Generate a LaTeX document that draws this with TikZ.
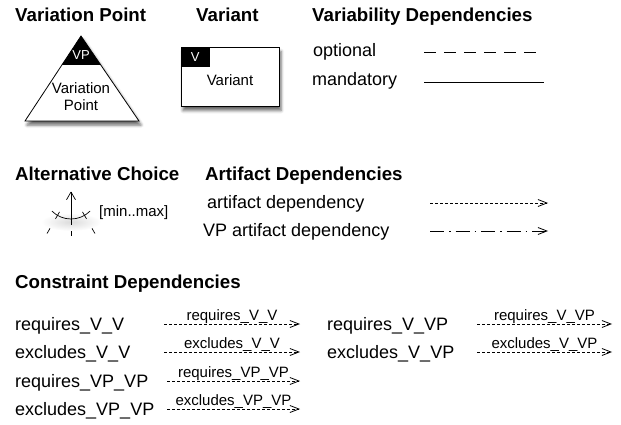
\documentclass[tikz,border=0pt]{standalone}
\usepackage{fontspec}
\setmainfont{Liberation Sans}
\usetikzlibrary{arrows.meta,shadows.blur}

\begin{document}
\begin{tikzpicture}[x=1pt,y=-1pt]
\tikzstyle{head}=[anchor=base west, inner sep=0, font=\fontsize{18.7}{20}\selectfont\bfseries]
\tikzstyle{txt}=[anchor=base west, inner sep=0, font=\fontsize{18}{20}\selectfont]
\tikzstyle{small}=[inner sep=0, font=\fontsize{15}{17}\selectfont]
\tikzstyle{lbl}=[anchor=base, inner sep=0, yshift=4pt, font=\fontsize{15}{17}\selectfont]
\tikzstyle{dep}=[line width=0.8pt, dash pattern=on 3pt off 2pt, -{Straight Barb[length=9pt,width=7pt]}]
\tikzstyle{shad}=[blur shadow={shadow xshift=2pt, shadow yshift=-4pt, shadow blur radius=3pt, shadow opacity=60}]

\useasboundingbox (0,0) rectangle (621,425);

\node[head] (hvp) at (15,22) {Variation Point};
\node[head] (hv) at (196,22) {Variant};
\node[head] (hvd) at (312,22) {Variability Dependencies};

\coordinate (vptop) at (81,36);
\coordinate (vpl) at (25,121);
\coordinate (vpr) at (139,121);
\path[fill=white, shad] (vptop) -- (vpl) -- (vpr) -- cycle;
\begin{scope}
\clip (vptop) -- (vpl) -- (vpr) -- cycle;
\fill (20,30) rectangle (145,65);
\end{scope}
\draw[line width=0.8pt] (vptop) -- (vpl) -- (vpr) -- cycle;
\node[small, white, font=\fontsize{13}{15}\selectfont] (vptag) at (81,55) {VP};
\node[small, align=center] (vpname) at (81,97) {Variation\\Point};

\node[draw, line width=0.8pt, fill=white, shad, minimum width=98pt,
    minimum height=59pt] (vbox) at (230,77) {};
\node[fill=black, anchor=north west, minimum width=29pt,
    minimum height=20pt, inner sep=0] (vtab) at (vbox.north west) {};
\node[small, white, font=\fontsize{13}{15}\selectfont] (vtag) at (vtab) {V};
\node[small] (vname) at (230,80) {Variant};

\node[txt] (opt) at (313,57) {optional};
\node[txt] (man) at (312,86) {mandatory};
\coordinate (opt1) at (424,52);
\coordinate (opt2) at (540,52);
\coordinate (man1) at (424,82);
\coordinate (man2) at (544,82);
\draw[line width=0.8pt, dash pattern=on 12pt off 8pt] (opt1) -- (opt2);
\draw[line width=0.8pt] (man1) -- (man2);

\node[head] (hac) at (15,180) {Alternative Choice};
\coordinate (apex) at (71,192);
\shade[inner color=black!14, outer color=white] (71,222) ellipse [x radius=30, y radius=9];
\draw[line width=0.7pt] (apex) -- ++(90:33);
\draw[line width=0.7pt] (apex) ++(90:39) -- ++(90:5);
\draw[line width=0.7pt, dash pattern=on 9pt off 14pt on 8pt off 11pt on 7pt off 30pt] (apex) -- ++(120:48);
\draw[line width=0.7pt, dash pattern=on 9pt off 14pt on 8pt off 11pt on 7pt off 30pt] (apex) -- ++(60:48);
\draw[line width=0.7pt] (apex) ++(135:27) arc[start angle=135, end angle=45, radius=27];
\node[small, anchor=west] (minmax) at (99,213) {[min..max]};

\node[head] (had) at (205,180) {Artifact Dependencies};
\node[txt] (art) at (207,208) {artifact dependency};
\node[txt] (vpart) at (203,236) {VP artifact dependency};
\coordinate (art1) at (430,203);
\coordinate (art2) at (548,203);
\coordinate (vpart1) at (430,231);
\coordinate (vpart2) at (548,231);
\draw[dep] (art1) -- (art2);
\draw[dep, dash pattern=on 14pt off 5pt on 1.5pt off 5pt] (vpart1) -- (vpart2);

\node[head] (hcd) at (15,288) {Constraint Dependencies};
\node[txt] (rvv) at (15,330) {requires\_V\_V};
\node[txt] (evv) at (15,358) {excludes\_V\_V};
\node[txt] (rpp) at (15,387) {requires\_VP\_VP};
\node[txt] (epp) at (15,415) {excludes\_VP\_VP};
\node[txt] (rvp) at (327,330) {requires\_V\_VP};
\node[txt] (evp) at (327,358) {excludes\_V\_VP};

\coordinate (rvv1) at (164,324);
\coordinate (rvv2) at (300,324);
\coordinate (evv1) at (164,352);
\coordinate (evv2) at (300,352);
\coordinate (rpp1) at (167,381);
\coordinate (rpp2) at (300,381);
\coordinate (epp1) at (167,409);
\coordinate (epp2) at (300,409);
\coordinate (rvp1) at (477,324);
\coordinate (rvp2) at (612,324);
\coordinate (evp1) at (477,352);
\coordinate (evp2) at (612,352);

\draw[dep] (rvv1) -- node[lbl] (lrvv) {requires\_V\_V} (rvv2);
\draw[dep] (evv1) -- node[lbl] (levv) {excludes\_V\_V} (evv2);
\draw[dep] (rpp1) -- node[lbl] (lrpp) {requires\_VP\_VP} (rpp2);
\draw[dep] (epp1) -- node[lbl] (lepp) {excludes\_VP\_VP} (epp2);
\draw[dep] (rvp1) -- node[lbl] (lrvp) {requires\_V\_VP} (rvp2);
\draw[dep] (evp1) -- node[lbl] (levp) {excludes\_V\_VP} (evp2);
\end{tikzpicture}
\end{document}
